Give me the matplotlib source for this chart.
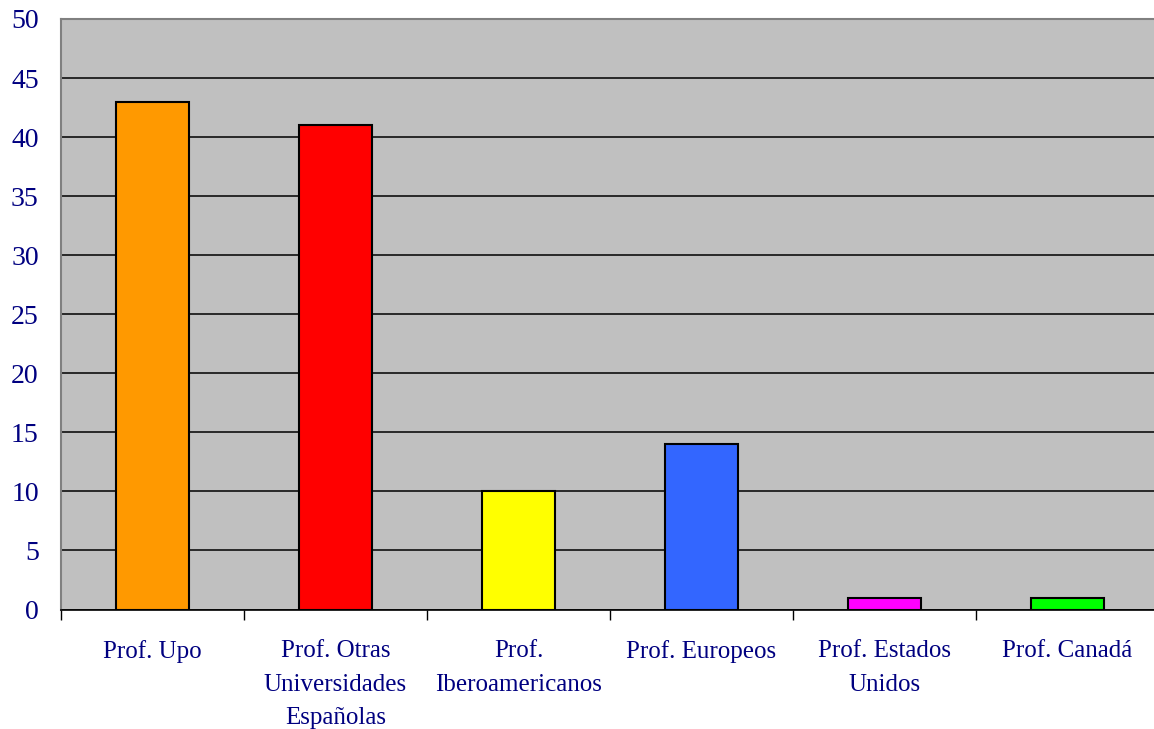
import matplotlib
matplotlib.use("Agg")
import matplotlib.pyplot as plt
import numpy as np

categories = ["Prof. Upo", "Prof. Otras\nUniversidades\nEspañolas", "Prof.\nIberoamericanos",
              "Prof. Europeos", "Prof. Estados\nUnidos", "Prof. Canadá"]
values = [43, 41, 10, 14, 1, 1]
colors = ["#FF9900", "#FF0000", "#FFFF00", "#3366FF", "#FF00FF", "#00FF00"]
yticks = [0, 5, 10, 15, 20, 25, 30, 35, 40, 45, 50]

plt.rcParams['font.family'] = ['Liberation Serif', 'DejaVu Serif']
navy = "#000080"

fig = plt.figure(figsize=(11.54, 7.29), dpi=100)
ax = fig.add_axes([61/1154, 1 - 609.5/729, 1098/1154, (609.5 - 19)/729])
ax.set_facecolor("#C0C0C0")

x = np.arange(len(categories))
ax.bar(x, values, width=0.40, color=colors, edgecolor="black", linewidth=1.5, zorder=3)

ax.set_xlim(-0.5, len(categories) - 0.5)
ax.set_ylim(0, 50)
ax.set_yticks(yticks)
ax.set_yticklabels([str(v) for v in yticks], fontsize=20, color=navy)
ax.tick_params(axis='y', length=0, pad=16)
ax.yaxis.grid(True, color="black", linewidth=1.1, zorder=1)
ax.set_axisbelow(True)

ax.set_xticks(x)
ax.set_xticklabels(categories, fontsize=18, color=navy, linespacing=1.68, va='top')
ax.tick_params(axis='x', which='major', length=0, pad=22)
ax.set_xticks(np.arange(len(categories) + 1) - 0.5, minor=True)
ax.tick_params(axis='x', which='minor', length=7, width=1, color="black", direction='out')

for s in ["top", "left"]:
    ax.spines[s].set_color("#808080")
    ax.spines[s].set_linewidth(1.5)
ax.spines["right"].set_visible(False)
ax.spines["bottom"].set_color("black")
ax.spines["bottom"].set_linewidth(1.2)
ax.spines["bottom"].set_zorder(4)

fig.savefig("out.png", dpi=100, facecolor="white")
